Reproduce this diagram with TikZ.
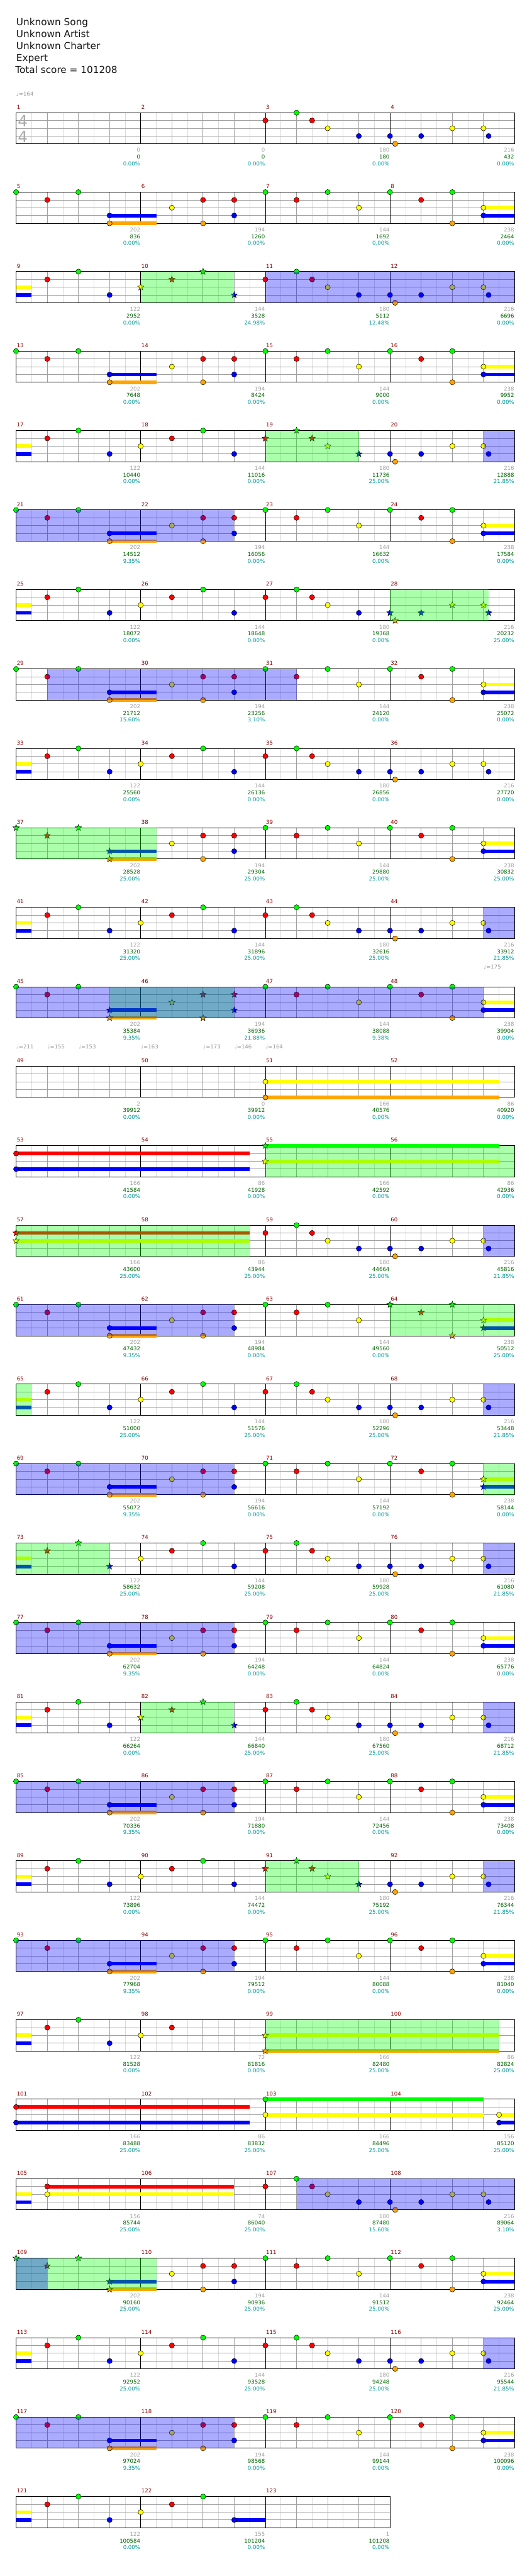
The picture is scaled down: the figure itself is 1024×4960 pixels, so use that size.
\documentclass[tikz,border=0pt]{standalone}
\usepackage{fontspec}
\setmainfont{DejaVu Sans}
\definecolor{headink}{RGB}{20,20,20}
\definecolor{barred}{RGB}{140,0,0}
\definecolor{gridlight}{RGB}{218,218,218}
\definecolor{gridmid}{RGB}{160,160,160}
\definecolor{siggray}{RGB}{170,170,170}
\definecolor{tempogray}{RGB}{150,150,150}
\definecolor{hitsgray}{RGB}{160,160,160}
\definecolor{scoregreen}{RGB}{0,100,0}
\definecolor{pctteal}{RGB}{0,153,153}
\definecolor{spgreen}{RGB}{0,255,0}
\definecolor{soloblue}{RGB}{0,0,255}
\definecolor{lane0}{RGB}{0,255,0}
\definecolor{lane1}{RGB}{255,0,0}
\definecolor{lane2}{RGB}{255,255,0}
\definecolor{lane3}{RGB}{0,0,255}
\definecolor{lane4}{RGB}{255,165,0}
\newcommand{\tinyfont}{\fontsize{5.2}{6}\selectfont}
\tikzset{
    gridfine/.style={draw=gridlight, line width=0.5pt},
    gridbeat/.style={draw=gridmid, line width=0.5pt},
    barline/.style={draw=black, line width=0.5pt},
    staffframe/.style={draw=black, line width=0.6pt},
    gemline/.style={draw=black, line width=0.3pt},
    spfill/.style={fill=spgreen, fill opacity=0.333},
    solofill/.style={fill=soloblue, fill opacity=0.333},
    headline/.style={font=\fontsize{9.25}{11}\selectfont, text=headink, anchor=base west, inner sep=0pt},
    timesig/.style={font=\fontsize{15}{15}\selectfont, text=siggray, inner sep=0pt},
    tempomark/.style={font=\tinyfont, text=tempogray, anchor=base west, inner sep=0pt},
    barnum/.style={font=\tinyfont, text=barred, anchor=base west, inner sep=0pt},
    tallygray/.style={font=\tinyfont, text=hitsgray, anchor=base east, inner sep=0pt},
    tallygreen/.style={font=\tinyfont, text=scoregreen, anchor=base east, inner sep=0pt},
    tallyteal/.style={font=\tinyfont, text=pctteal, anchor=base east, inner sep=0pt}
}
% row position and star-power range
\newcommand{\setrow}[1]{\pgfmathsetmacro{\rowtop}{217+153*(#1-1)}\def\starlo{99}\def\starhi{98}}
\newcommand{\setstars}[2]{\def\starlo{#1}\def\starhi{#2}}
% staff grid with #1 bars
\newcommand{\staff}[1]{%
    \pgfmathtruncatemacro{\lastodd}{8*#1-1}%
    \pgfmathtruncatemacro{\lasteven}{8*#1-2}%
    \pgfmathtruncatemacro{\lastbar}{8*#1-8}%
    \foreach \k in {1,3,...,\lastodd} \draw[gridfine] (31+30*\k,\rowtop) -- (31+30*\k,\rowtop+60);
    \foreach \k in {2,4,...,\lasteven} \draw[gridbeat] (31+30*\k,\rowtop) -- (31+30*\k,\rowtop+60);
    \foreach \l in {1,2,3} \draw[gridbeat] (31,\rowtop+15*\l) -- (31+240*#1,\rowtop+15*\l);
    \foreach \k in {8,16,...,\lastbar} \draw[barline] (31+30*\k,\rowtop) -- (31+30*\k,\rowtop+60);
    \draw[staffframe] (31,\rowtop) rectangle (31+240*#1,\rowtop+60);
}
% note head: eighth, lane
\newcommand{\gem}[2]{%
    \pgfmathtruncatemacro{\isstar}{((#1>\starlo-0.01)&&(#1<\starhi+0.01))?1:0}%
    \ifnum\isstar=1
        \filldraw[gemline, fill=lane#2] ({31+30*#1},{\rowtop+15*#2}) +(-90:6.5) -- +(-54:2.7) -- +(-18:6.5) -- +(18:2.7) -- +(54:6.5) -- +(90:2.7) -- +(126:6.5) -- +(162:2.7) -- +(198:6.5) -- +(234:2.7) -- cycle;
    \else
        \filldraw[gemline, fill=lane#2] ({31+30*#1},{\rowtop+15*#2}) circle[radius=5];
    \fi}
\newcommand{\hold}[3]{\fill[lane#3] ({31+30*#1},{\rowtop+15*#3-3.5}) rectangle ({31+30*#2},{\rowtop+15*#3+3.5});}
\newcommand{\holdgem}[3]{\hold{#1}{#2}{#3}\gem{#1}{#3}}
\newcommand{\spzone}[2]{\fill[spfill] ({31+30*#1},\rowtop) rectangle ({31+30*#2},{\rowtop+60});}
\newcommand{\solozone}[2]{\fill[solofill] ({31+30*#1},\rowtop) rectangle ({31+30*#2},{\rowtop+60});}
% column, bar number, hits, score, percentage
\newcommand{\barinfo}[5]{%
    \node[barnum] (bar#2) at ({32+240*#1},{\rowtop-7}) {#2};
    \node[tallygray] (hits#2) at ({30.5+240*(#1+1)},{\rowtop+76}) {#3};
    \node[tallygreen] (score#2) at ({30.5+240*(#1+1)},{\rowtop+89}) {#4};
    \node[tallyteal] (pct#2) at ({30.5+240*(#1+1)},{\rowtop+102}) {#5\%};}
% recurring riffs
\newcommand{\patA}{\gem{0}{0}\gem{2}{1}\gem{4}{0}\holdgem{6}{9}{3}\holdgem{6}{9}{4}\gem{10}{2}\gem{12}{1}\gem{12}{4}\gem{14}{1}\gem{14}{3}}
\newcommand{\patB}{\gem{16}{0}\gem{18}{1}\gem{20}{0}\gem{22}{2}\gem{24}{0}\gem{26}{1}\gem{28}{0}\gem{28}{4}\holdgem{30}{32}{2}\holdgem{30}{32}{3}}
\newcommand{\patC}{\hold{0}{1}{2}\hold{0}{1}{3}\gem{2}{1}\gem{4}{0}\gem{6}{3}\gem{8}{2}\gem{10}{1}\gem{12}{0}\gem{14}{3}}
\newcommand{\patD}{\gem{16}{1}\gem{18}{0}\gem{19}{1}\gem{20}{2}\gem{22}{3}\gem{24}{3}\gem{24.33}{4}\gem{26}{3}\gem{28}{2}\gem{30}{2}\gem{30.33}{3}}

\begin{document}
\begin{tikzpicture}[x=0.5pt, y=-0.5pt]
\fill[white] (0,0) rectangle (1024,4960);
\useasboundingbox (0,0) rectangle (1024,4960);

% Header
\node[headline] (song) at (31,49) {Unknown Song};
\node[headline] (artist) at (31,72) {Unknown Artist};
\node[headline] (charter) at (31,95) {Unknown Charter};
\node[headline] (level) at (31,118) {Expert};
\node[headline] (total) at (29,141) {Total score = 101208};
\node[tempomark] (bpm1) at (31,185) {♩=164};

% Bars 1-4
\setrow{1}
\staff{4}
\node[timesig] (sigtop) at (44,233) {4};
\node[timesig] (sigbottom) at (44,263) {4};
\patD
\barinfo{0}{1}{0}{0}{0.00}
\barinfo{1}{2}{0}{0}{0.00}
\barinfo{2}{3}{180}{180}{0.00}
\barinfo{3}{4}{216}{432}{0.00}

% Bars 5-8
\setrow{2}
\staff{4}
\patA\patB
\barinfo{0}{5}{202}{836}{0.00}
\barinfo{1}{6}{194}{1260}{0.00}
\barinfo{2}{7}{144}{1692}{0.00}
\barinfo{3}{8}{238}{2464}{0.00}

% Bars 9-12
\setrow{3}\setstars{8}{14}
\staff{4}
\patC\patD
\spzone{8}{14}\solozone{16}{32}
\barinfo{0}{9}{122}{2952}{0.00}
\barinfo{1}{10}{144}{3528}{24.98}
\barinfo{2}{11}{180}{5112}{12.48}
\barinfo{3}{12}{216}{6696}{0.00}

% Bars 13-16
\setrow{4}
\staff{4}
\patA\patB
\barinfo{0}{13}{202}{7648}{0.00}
\barinfo{1}{14}{194}{8424}{0.00}
\barinfo{2}{15}{144}{9000}{0.00}
\barinfo{3}{16}{238}{9952}{0.00}

% Bars 17-20
\setrow{5}\setstars{16}{22}
\staff{4}
\patC\patD
\spzone{16}{22}\solozone{30}{32}
\barinfo{0}{17}{122}{10440}{0.00}
\barinfo{1}{18}{144}{11016}{0.00}
\barinfo{2}{19}{180}{11736}{25.00}
\barinfo{3}{20}{216}{12888}{21.85}

% Bars 21-24
\setrow{6}
\staff{4}
\patA\patB
\solozone{0}{14}
\barinfo{0}{21}{202}{14512}{9.35}
\barinfo{1}{22}{194}{16056}{0.00}
\barinfo{2}{23}{144}{16632}{0.00}
\barinfo{3}{24}{238}{17584}{0.00}

% Bars 25-28
\setrow{7}\setstars{24}{30.33}
\staff{4}
\patC\patD
\spzone{24}{30.33}
\barinfo{0}{25}{122}{18072}{0.00}
\barinfo{1}{26}{144}{18648}{0.00}
\barinfo{2}{27}{180}{19368}{0.00}
\barinfo{3}{28}{216}{20232}{25.00}

% Bars 29-32
\setrow{8}
\staff{4}
\patA\patB
\solozone{2}{18}
\barinfo{0}{29}{202}{21712}{15.60}
\barinfo{1}{30}{194}{23256}{3.10}
\barinfo{2}{31}{144}{24120}{0.00}
\barinfo{3}{32}{238}{25072}{0.00}

% Bars 33-36
\setrow{9}
\staff{4}
\patC\patD
\barinfo{0}{33}{122}{25560}{0.00}
\barinfo{1}{34}{144}{26136}{0.00}
\barinfo{2}{35}{180}{26856}{0.00}
\barinfo{3}{36}{216}{27720}{0.00}

% Bars 37-40
\setrow{10}\setstars{0}{6}
\staff{4}
\patA\patB
\spzone{0}{9}
\barinfo{0}{37}{202}{28528}{25.00}
\barinfo{1}{38}{194}{29304}{25.00}
\barinfo{2}{39}{144}{29880}{25.00}
\barinfo{3}{40}{238}{30832}{25.00}

% Bars 41-44
\setrow{11}
\staff{4}
\patC\patD
\solozone{30}{32}
\barinfo{0}{41}{122}{31320}{25.00}
\barinfo{1}{42}{144}{31896}{25.00}
\barinfo{2}{43}{180}{32616}{25.00}
\barinfo{3}{44}{216}{33912}{21.85}
\node[tempomark] (bpm2) at (931,1866) {♩=175};

% Bars 45-48
\setrow{12}\setstars{6}{14}
\staff{4}
\patA\patB
\spzone{6}{14}\solozone{0}{30}
\barinfo{0}{45}{202}{35384}{9.35}
\barinfo{1}{46}{194}{36936}{21.88}
\barinfo{2}{47}{144}{38088}{9.38}
\barinfo{3}{48}{238}{39904}{0.00}
\node[tempomark] (bpm3) at (31,2019) {♩=211};
\node[tempomark] (bpm4) at (91,2019) {♩=155};
\node[tempomark] (bpm5) at (151,2019) {♩=153};
\node[tempomark] (bpm6) at (271,2019) {♩=163};
\node[tempomark] (bpm7) at (391,2019) {♩=173};
\node[tempomark] (bpm8) at (451,2019) {♩=146};
\node[tempomark] (bpm9) at (511,2019) {♩=164};

% Bars 49-52
\setrow{13}
\staff{4}
\holdgem{16}{31}{2}\holdgem{16}{31}{4}
\barinfo{0}{49}{2}{39912}{0.00}
\barinfo{1}{50}{0}{39912}{0.00}
\barinfo{2}{51}{166}{40576}{0.00}
\barinfo{3}{52}{86}{40920}{0.00}

% Bars 53-56
\setrow{14}\setstars{16}{16}
\staff{4}
\holdgem{0}{15}{1}\holdgem{0}{15}{3}\holdgem{16}{31}{0}\holdgem{16}{31}{2}
\spzone{16}{32}
\barinfo{0}{53}{166}{41584}{0.00}
\barinfo{1}{54}{86}{41928}{0.00}
\barinfo{2}{55}{166}{42592}{0.00}
\barinfo{3}{56}{86}{42936}{0.00}

% Bars 57-60
\setrow{15}\setstars{0}{0}
\staff{4}
\holdgem{0}{15}{1}\holdgem{0}{15}{2}
\patD
\spzone{0}{15}\solozone{30}{32}
\barinfo{0}{57}{166}{43600}{25.00}
\barinfo{1}{58}{86}{43944}{25.00}
\barinfo{2}{59}{180}{44664}{25.00}
\barinfo{3}{60}{216}{45816}{21.85}

% Bars 61-64
\setrow{16}\setstars{24}{30}
\staff{4}
\patA\patB
\spzone{24}{32}\solozone{0}{14}
\barinfo{0}{61}{202}{47432}{9.35}
\barinfo{1}{62}{194}{48984}{0.00}
\barinfo{2}{63}{144}{49560}{0.00}
\barinfo{3}{64}{238}{50512}{25.00}

% Bars 65-68
\setrow{17}
\staff{4}
\patC\patD
\spzone{0}{1}\solozone{30}{32}
\barinfo{0}{65}{122}{51000}{25.00}
\barinfo{1}{66}{144}{51576}{25.00}
\barinfo{2}{67}{180}{52296}{25.00}
\barinfo{3}{68}{216}{53448}{21.85}

% Bars 69-72
\setrow{18}\setstars{30}{30}
\staff{4}
\patA\patB
\spzone{30}{32}\solozone{0}{14}
\barinfo{0}{69}{202}{55072}{9.35}
\barinfo{1}{70}{194}{56616}{0.00}
\barinfo{2}{71}{144}{57192}{0.00}
\barinfo{3}{72}{238}{58144}{0.00}

% Bars 73-76
\setrow{19}\setstars{2}{6}
\staff{4}
\patC\patD
\spzone{0}{6}\solozone{30}{32}
\barinfo{0}{73}{122}{58632}{25.00}
\barinfo{1}{74}{144}{59208}{25.00}
\barinfo{2}{75}{180}{59928}{25.00}
\barinfo{3}{76}{216}{61080}{21.85}

% Bars 77-80
\setrow{20}
\staff{4}
\patA\patB
\solozone{0}{14}
\barinfo{0}{77}{202}{62704}{9.35}
\barinfo{1}{78}{194}{64248}{0.00}
\barinfo{2}{79}{144}{64824}{0.00}
\barinfo{3}{80}{238}{65776}{0.00}

% Bars 81-84
\setrow{21}\setstars{8}{14}
\staff{4}
\patC\patD
\spzone{8}{14}\solozone{30}{32}
\barinfo{0}{81}{122}{66264}{0.00}
\barinfo{1}{82}{144}{66840}{25.00}
\barinfo{2}{83}{180}{67560}{25.00}
\barinfo{3}{84}{216}{68712}{21.85}

% Bars 85-88
\setrow{22}
\staff{4}
\patA\patB
\solozone{0}{14}
\barinfo{0}{85}{202}{70336}{9.35}
\barinfo{1}{86}{194}{71880}{0.00}
\barinfo{2}{87}{144}{72456}{0.00}
\barinfo{3}{88}{238}{73408}{0.00}

% Bars 89-92
\setrow{23}\setstars{16}{22}
\staff{4}
\patC\patD
\spzone{16}{22}\solozone{30}{32}
\barinfo{0}{89}{122}{73896}{0.00}
\barinfo{1}{90}{144}{74472}{0.00}
\barinfo{2}{91}{180}{75192}{25.00}
\barinfo{3}{92}{216}{76344}{21.85}

% Bars 93-96
\setrow{24}
\staff{4}
\patA\patB
\solozone{0}{14}
\barinfo{0}{93}{202}{77968}{9.35}
\barinfo{1}{94}{194}{79512}{0.00}
\barinfo{2}{95}{144}{80088}{0.00}
\barinfo{3}{96}{238}{81040}{0.00}

% Bars 97-100
\setrow{25}\setstars{16}{16}
\staff{4}
\hold{0}{1}{2}\hold{0}{1}{3}\gem{2}{1}\gem{4}{0}\gem{6}{3}\gem{8}{2}\gem{10}{1}
\holdgem{16}{31}{2}\holdgem{16}{31}{4}
\spzone{16}{31}
\barinfo{0}{97}{122}{81528}{0.00}
\barinfo{1}{98}{72}{81816}{0.00}
\barinfo{2}{99}{166}{82480}{25.00}
\barinfo{3}{100}{86}{82824}{25.00}

% Bars 101-104
\setrow{26}
\staff{4}
\holdgem{0}{15}{1}\holdgem{0}{15}{3}
\holdgem{16}{30}{0}\holdgem{16}{30}{2}
\holdgem{31}{32}{2}\holdgem{31}{32}{3}
\barinfo{0}{101}{166}{83488}{25.00}
\barinfo{1}{102}{86}{83832}{25.00}
\barinfo{2}{103}{166}{84496}{25.00}
\barinfo{3}{104}{156}{85120}{25.00}

% Bars 105-108
\setrow{27}
\staff{4}
\hold{0}{1}{2}\hold{0}{1}{3}\holdgem{2}{14}{1}\holdgem{2}{14}{2}
\patD
\solozone{18}{32}
\barinfo{0}{105}{156}{85744}{25.00}
\barinfo{1}{106}{74}{86040}{25.00}
\barinfo{2}{107}{180}{87480}{15.60}
\barinfo{3}{108}{216}{89064}{3.10}

% Bars 109-112
\setrow{28}\setstars{0}{6}
\staff{4}
\patA\patB
\spzone{0}{9}\solozone{0}{2}
\barinfo{0}{109}{202}{90160}{25.00}
\barinfo{1}{110}{194}{90936}{25.00}
\barinfo{2}{111}{144}{91512}{25.00}
\barinfo{3}{112}{238}{92464}{25.00}

% Bars 113-116
\setrow{29}
\staff{4}
\patC\patD
\solozone{30}{32}
\barinfo{0}{113}{122}{92952}{25.00}
\barinfo{1}{114}{144}{93528}{25.00}
\barinfo{2}{115}{180}{94248}{25.00}
\barinfo{3}{116}{216}{95544}{21.85}

% Bars 117-120
\setrow{30}
\staff{4}
\patA\patB
\solozone{0}{14}
\barinfo{0}{117}{202}{97024}{9.35}
\barinfo{1}{118}{194}{98568}{0.00}
\barinfo{2}{119}{144}{99144}{0.00}
\barinfo{3}{120}{238}{100096}{0.00}

% Bars 121-123
\setrow{31}
\staff{3}
\hold{0}{1}{2}\hold{0}{1}{3}\gem{2}{1}\gem{4}{0}\gem{6}{3}\gem{8}{2}\gem{10}{1}\gem{12}{0}\holdgem{14}{16}{3}
\barinfo{0}{121}{122}{100584}{0.00}
\barinfo{1}{122}{155}{101204}{0.00}
\barinfo{2}{123}{1}{101208}{0.00}
\end{tikzpicture}
\end{document}
